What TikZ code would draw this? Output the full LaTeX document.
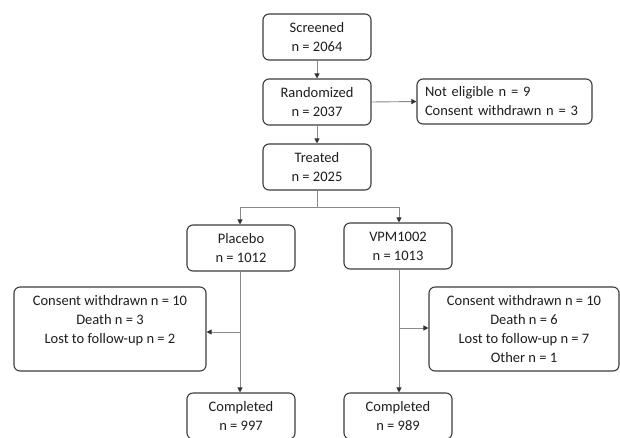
\documentclass[tikz,border=0pt]{standalone}
\usepackage{fontspec}
\setmainfont{Carlito}
\usetikzlibrary{arrows.meta}
\definecolor{boxline}{HTML}{3C3C3C}
\definecolor{conline}{HTML}{8A8A8A}
\definecolor{txt}{HTML}{1E1E1E}
\begin{document}
\begin{tikzpicture}[x=1pt,y=-1pt,
  flowbox/.style={draw=boxline, line width=1.1pt, rounded corners=6pt, align=center,
    text=txt, inner sep=0pt, font=\fontsize{14.5}{19}\selectfont},
  conn/.style={draw=conline, line width=0.9pt},
  arr/.style={conn, -{Triangle[length=5pt,width=5pt,color=black!80]}}]
\clip (0,0) rectangle (620,437);
\fill[white] (0,0) rectangle (620,437);

\node[flowbox, minimum width=108pt, minimum height=46pt] (scr) at (317,37) {Screened\\n = 2064};
\node[flowbox, minimum width=108pt, minimum height=46pt] (ran) at (317,102) {Randomized\\n = 2037};
\node[flowbox, minimum width=108pt, minimum height=46pt] (tre) at (317,167) {Treated\\n = 2025};
\node[flowbox, minimum width=175pt, minimum height=45pt, align=left, text width=159pt] (ne) at (504.5,101.5)
  {Not eligible n = 9\\Consent withdrawn n = 3};
\node[flowbox, minimum width=108pt, minimum height=46pt] (pla) at (241,248) {Placebo\\n = 1012};
\node[flowbox, minimum width=108pt, minimum height=46pt] (vpm) at (398,246) {VPM1002\\n = 1013};
\node[flowbox, minimum width=192pt, minimum height=84pt] (lw) at (110,329)
  {Consent withdrawn n = 10\\Death n = 3\\Lost to follow-up n = 2\\\mbox{}};
\node[flowbox, minimum width=190pt, minimum height=84pt] (rw) at (524,329)
  {Consent withdrawn n = 10\\Death n = 6\\Lost to follow-up n = 7\\Other n = 1};
\node[flowbox, minimum width=108pt, minimum height=46pt] (plc) at (241,416) {Completed\\n = 997};
\node[flowbox, minimum width=108pt, minimum height=46pt] (vpc) at (398,416) {Completed\\n = 989};

\coordinate (split) at (317,207);
\coordinate (pbr) at (240,332);
\coordinate (vbr) at (399,328);

\draw[arr] (scr.south) -- (ran.north);
\draw[arr] (ran.south) -- (tre.north);
\draw[arr] (ran.east) -- (ne.west);
\draw[conn] (tre.south) -- (split);
\draw[arr] (split) -| (240,0 |- pla.north);
\draw[arr] (split) -| (399,0 |- vpm.north);
\draw[arr] (240,0 |- pla.south) -- (240,0 |- plc.north);
\draw[arr] (399,0 |- vpm.south) -- (399,0 |- vpc.north);
\draw[arr] (pbr) -- (pbr -| lw.east);
\draw[arr] (vbr) -- (vbr -| rw.west);
\end{tikzpicture}
\end{document}
